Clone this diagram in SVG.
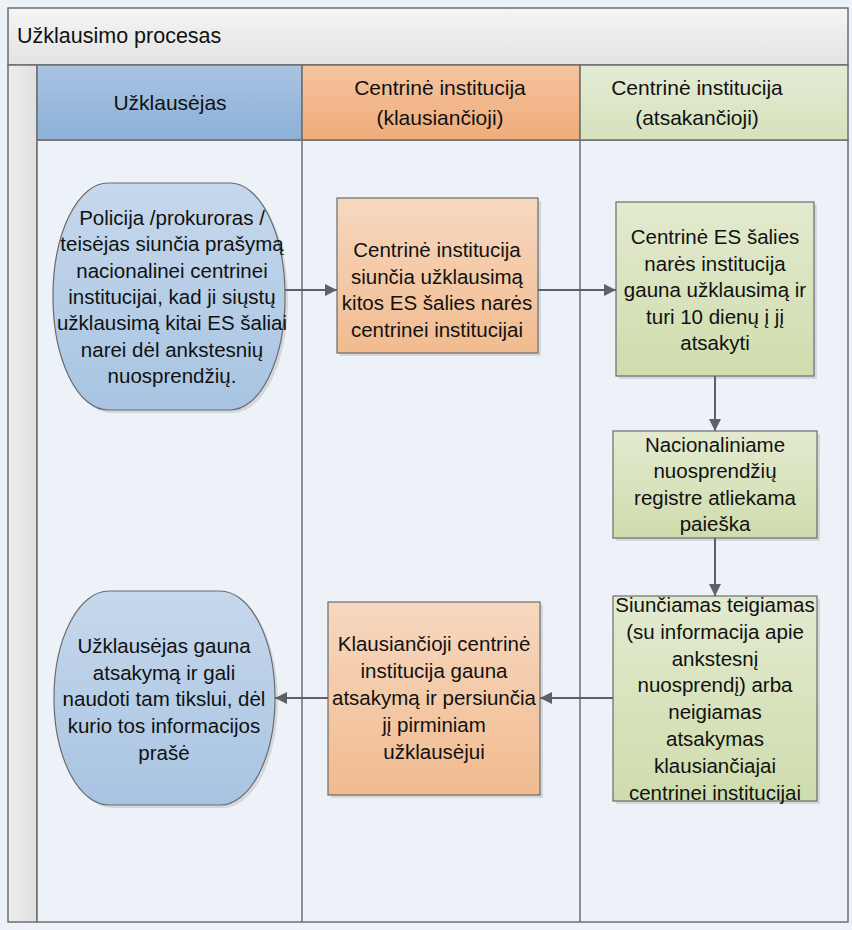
<svg xmlns="http://www.w3.org/2000/svg" width="852" height="930" viewBox="0 0 852 930">
<defs>
<linearGradient id="gTitle" x1="0" y1="0" x2="0" y2="1"><stop offset="0" stop-color="#f5f5f5"/><stop offset="1" stop-color="#e3e3e3"/></linearGradient>
<linearGradient id="gStrip" x1="0" y1="0" x2="1" y2="0"><stop offset="0" stop-color="#ededed"/><stop offset="1" stop-color="#e0e0e0"/></linearGradient>
<linearGradient id="gH1" x1="0" y1="0" x2="0" y2="1"><stop offset="0" stop-color="#a9c4e1"/><stop offset="1" stop-color="#8cb0d8"/></linearGradient>
<linearGradient id="gH2" x1="0" y1="0" x2="0" y2="1"><stop offset="0" stop-color="#f5c4a0"/><stop offset="1" stop-color="#efac79"/></linearGradient>
<linearGradient id="gH3" x1="0" y1="0" x2="0" y2="1"><stop offset="0" stop-color="#e4ecd5"/><stop offset="1" stop-color="#d5e2bb"/></linearGradient>
<linearGradient id="gBlue" x1="0" y1="0" x2="0" y2="1"><stop offset="0" stop-color="#c6d8ec"/><stop offset="1" stop-color="#a8c4e2"/></linearGradient>
<linearGradient id="gOrange" x1="0" y1="0" x2="0" y2="1"><stop offset="0" stop-color="#f7d8c0"/><stop offset="1" stop-color="#f1bb8f"/></linearGradient>
<linearGradient id="gGreen" x1="0" y1="0" x2="0" y2="1"><stop offset="0" stop-color="#e3eacf"/><stop offset="1" stop-color="#cfdcad"/></linearGradient>
<marker id="arr" viewBox="0 0 10 10" refX="10" refY="5" markerWidth="13" markerHeight="12" markerUnits="userSpaceOnUse" orient="auto">
<path d="M0,0 L10,5 L0,10 z" fill="#5d6066"/>
</marker>
</defs>
<style>
.frame{stroke:#6e6e6e;stroke-width:1.5}
.node{stroke:#6b6b6b;stroke-width:1.2}
.shadow{fill:#000;opacity:0.1}
.t{font-family:"Liberation Sans",Arial,sans-serif;font-size:20.5px;fill:#111;text-anchor:middle}
.h{font-family:"Liberation Sans",Arial,sans-serif;font-size:21px;fill:#111;text-anchor:middle}
.conn{stroke:#5d6066;stroke-width:2;fill:none;marker-end:url(#arr)}
</style>
<rect x="0" y="0" width="852" height="930" fill="#edf1f8"/>

<g id="pool">
<rect x="8" y="8" width="840" height="57" fill="url(#gTitle)" class="frame"/>
<text x="17" y="43" font-family="'Liberation Sans',Arial,sans-serif" font-size="21.5" fill="#111">Užklausimo procesas</text>
<rect x="8" y="65" width="29" height="857" fill="url(#gStrip)" class="frame"/>
<rect x="37" y="140" width="811" height="782" fill="#edf1f8" class="frame"/>
<line x1="302" y1="140" x2="302" y2="922" class="frame"/>
<line x1="580" y1="140" x2="580" y2="922" class="frame"/>
</g>

<g id="lane1">
<rect x="37" y="65" width="265" height="75" fill="url(#gH1)" class="frame"/>
<text x="170" y="110" class="h">Užklausėjas</text>
</g>
<g id="lane2">
<rect x="302" y="65" width="278" height="75" fill="url(#gH2)" class="frame"/>
<text x="440" y="95" class="h">Centrinė institucija</text>
<text x="440" y="125" class="h">(klausiančioji)</text>
</g>
<g id="lane3">
<rect x="580" y="65" width="268" height="75" fill="url(#gH3)" class="frame"/>
<text x="697" y="95" class="h">Centrinė institucija</text>
<text x="697" y="125" class="h">(atsakančioji)</text>
</g>

<g id="n1">
<rect x="56" y="186" width="232" height="227" rx="55" ry="113" class="shadow"/>
<rect x="53" y="183" width="232" height="227" rx="55" ry="113" fill="url(#gBlue)" class="node"/>
<text class="t"><tspan x="172" y="225">Policija /prokuroras /</tspan><tspan x="172" y="251.3">teisėjas siunčia prašymą</tspan><tspan x="172" y="277.6">nacionalinei centrinei</tspan><tspan x="172" y="303.9">institucijai, kad ji siųstų</tspan><tspan x="172" y="330.2">užklausimą kitai ES šaliai</tspan><tspan x="172" y="356.5">narei dėl ankstesnių</tspan><tspan x="172" y="382.8">nuosprendžių.</tspan></text>
</g>

<g id="n2">
<rect x="340" y="201" width="201" height="155" class="shadow"/>
<rect x="337" y="198" width="201" height="155" fill="url(#gOrange)" class="node"/>
<text class="t"><tspan x="437" y="257">Centrinė institucija</tspan><tspan x="437" y="283.7">siunčia užklausimą</tspan><tspan x="437" y="310.4">kitos ES šalies narės</tspan><tspan x="437" y="337.1">centrinei institucijai</tspan></text>
</g>

<g id="n3">
<rect x="619" y="205" width="198" height="174" class="shadow"/>
<rect x="616" y="202" width="198" height="174" fill="url(#gGreen)" class="node"/>
<text class="t"><tspan x="715" y="244">Centrinė ES šalies</tspan><tspan x="715" y="270.6">narės institucija</tspan><tspan x="715" y="297.2">gauna užklausimą ir</tspan><tspan x="715" y="323.8">turi 10 dienų į jį</tspan><tspan x="715" y="350.4">atsakyti</tspan></text>
</g>

<g id="n4">
<rect x="616" y="434" width="204" height="107" class="shadow"/>
<rect x="613" y="431" width="204" height="107" fill="url(#gGreen)" class="node"/>
<text class="t"><tspan x="715" y="452">Nacionaliniame</tspan><tspan x="715" y="478.3">nuosprendžių</tspan><tspan x="715" y="504.6">registre atliekama</tspan><tspan x="715" y="530.9">paieška</tspan></text>
</g>

<g id="n5">
<rect x="616" y="599" width="204" height="205" class="shadow"/>
<rect x="613" y="596" width="204" height="205" fill="url(#gGreen)" class="node"/>
<text class="t"><tspan x="715" y="612">Siunčiamas teigiamas</tspan><tspan x="715" y="638.8">(su informacija apie</tspan><tspan x="715" y="665.6">ankstesnį</tspan><tspan x="715" y="692.4">nuosprendį) arba</tspan><tspan x="715" y="719.2">neigiamas</tspan><tspan x="715" y="746">atsakymas</tspan><tspan x="715" y="772.8">klausiančiajai</tspan><tspan x="715" y="799.6">centrinei institucijai</tspan></text>
</g>

<g id="n6">
<rect x="331" y="605" width="212" height="193" class="shadow"/>
<rect x="328" y="602" width="212" height="193" fill="url(#gOrange)" class="node"/>
<text class="t"><tspan x="434" y="651">Klausiančioji centrinė</tspan><tspan x="434" y="678">institucija gauna</tspan><tspan x="434" y="705">atsakymą ir persiunčia</tspan><tspan x="434" y="732">jį pirminiam</tspan><tspan x="434" y="759">užklausėjui</tspan></text>
</g>

<g id="n7">
<rect x="57" y="594" width="221" height="214" rx="55" ry="107" class="shadow"/>
<rect x="54" y="591" width="221" height="214" rx="55" ry="107" fill="url(#gBlue)" class="node"/>
<text class="t"><tspan x="164" y="653">Užklausėjas gauna</tspan><tspan x="164" y="679.7">atsakymą ir gali</tspan><tspan x="164" y="706.4">naudoti tam tikslui, dėl</tspan><tspan x="164" y="733.1">kurio tos informacijos</tspan><tspan x="164" y="759.8">prašė</tspan></text>
</g>

<g id="connectors">
<line x1="285" y1="290" x2="337" y2="290" class="conn"/>
<line x1="538" y1="290" x2="616" y2="290" class="conn"/>
<line x1="715" y1="376" x2="715" y2="431" class="conn"/>
<line x1="715" y1="538" x2="715" y2="596" class="conn"/>
<line x1="613" y1="698" x2="540" y2="698" class="conn"/>
<line x1="328" y1="698" x2="275" y2="698" class="conn"/>
</g>
</svg>
